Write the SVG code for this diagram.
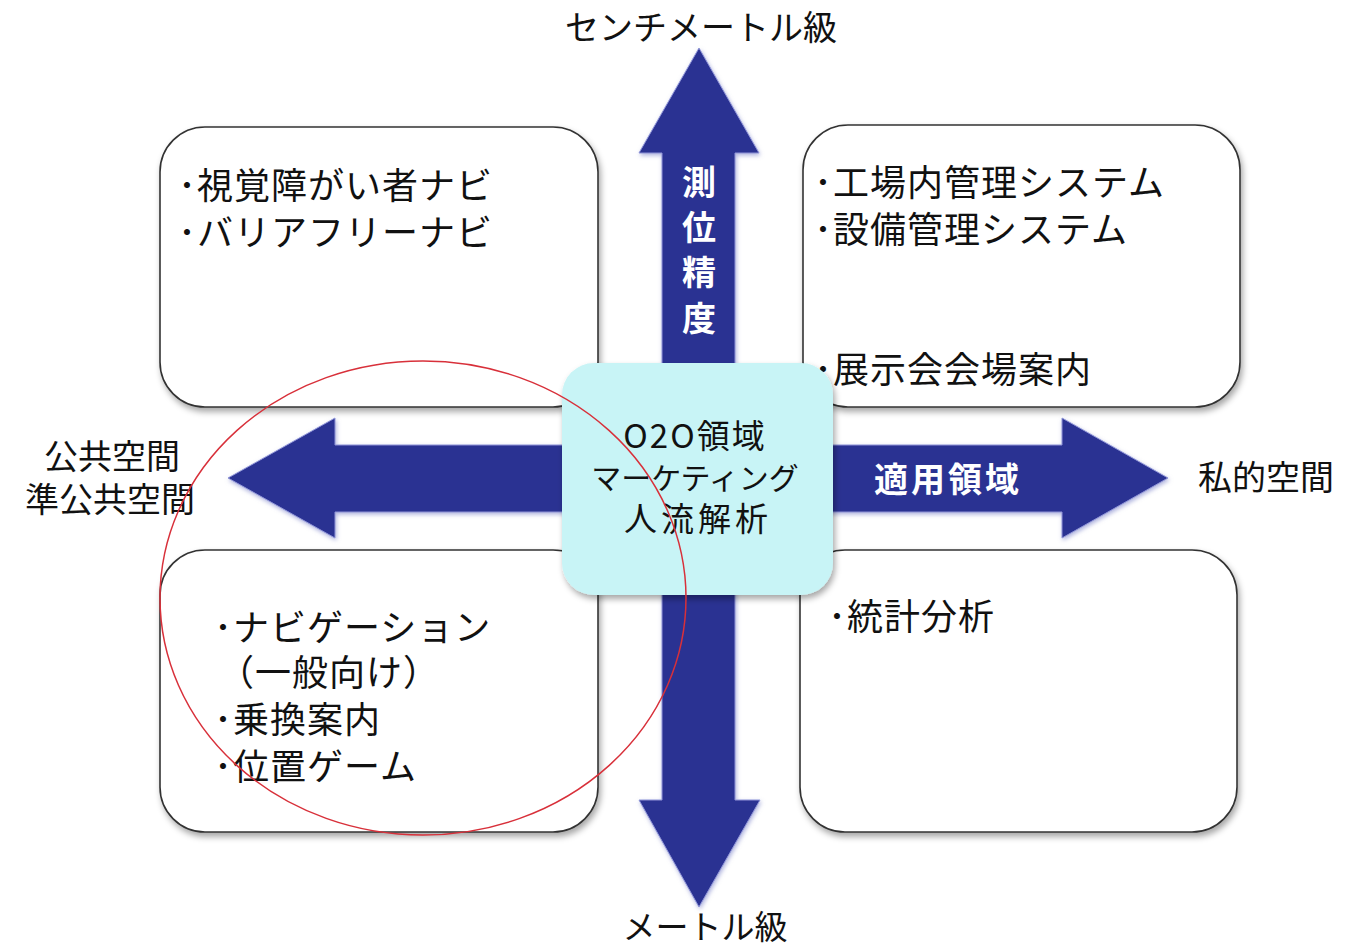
<svg xmlns="http://www.w3.org/2000/svg" width="1348" height="949" viewBox="0 0 1348 949">
<defs>
<filter id="sh" x="-10%" y="-10%" width="125%" height="125%">
<feDropShadow dx="2" dy="4" stdDeviation="3" flood-color="#000" flood-opacity="0.35"/>
</filter>
<filter id="ash" x="-10%" y="-10%" width="125%" height="125%">
<feDropShadow dx="1" dy="2" stdDeviation="2" flood-color="#7880c8" flood-opacity="0.6"/>
</filter>
<style>
.t{font-family:"Noto Sans CJK JP","Noto Sans",sans-serif;fill:#111;font-size:35px}
.b{font-size:36px;letter-spacing:1px}
.w{font-family:"Noto Sans CJK JP","Noto Sans",sans-serif;fill:#fff;font-size:34px;font-weight:bold}
.box{fill:#fff;stroke:#333;stroke-width:1.6}
.arr{fill:#2c3092;stroke:#8f96d8;stroke-width:1}
</style>
</defs>
<rect width="1348" height="949" fill="#fff"/>
<g id="connectors">
<polygon class="arr" filter="url(#ash)" points="699,48 759,153 735,153 735,800 760,800 699,907 639,800 662,800 662,153 639,153"/>
<polygon class="arr" filter="url(#ash)" points="228,478 335,418 335,445 1062,445 1062,418 1168,478 1062,538 1062,512 335,512 335,538"/>
</g>
<g id="label-vertical">
<text class="w" x="699" y="195" text-anchor="middle">測</text>
<text class="w" x="699" y="240" text-anchor="middle">位</text>
<text class="w" x="699" y="285" text-anchor="middle">精</text>
<text class="w" x="699" y="331" text-anchor="middle">度</text>
</g>
<g id="label-horizontal">
<text class="w" x="948" y="492" text-anchor="middle" letter-spacing="3">適用領域</text>
</g>
<g id="box-tl">
<rect class="box" filter="url(#sh)" x="160" y="127" width="438" height="280" rx="45"/>
<text class="t b" x="178" y="199">･視覚障がい者ナビ</text>
<text class="t b" x="178" y="246">･バリアフリーナビ</text>
</g>
<g id="box-tr">
<rect class="box" filter="url(#sh)" x="803" y="125" width="437" height="282" rx="45"/>
<text class="t b" x="814" y="196">･工場内管理システム</text>
<text class="t b" x="814" y="243">･設備管理システム</text>
<text class="t b" x="814" y="383">･展示会会場案内</text>
</g>
<g id="box-bl">
<rect class="box" filter="url(#sh)" x="160" y="550" width="438" height="282" rx="45"/>
<text class="t b" x="214" y="641">･ナビゲーション</text>
<text class="t b" x="218" y="686">（一般向け）</text>
<text class="t b" x="214" y="733">･乗換案内</text>
<text class="t b" x="214" y="780">･位置ゲーム</text>
</g>
<g id="box-br">
<rect class="box" filter="url(#sh)" x="800" y="550" width="437" height="282" rx="45"/>
<text class="t b" x="828" y="630">･統計分析</text>
</g>
<g id="center">
<rect filter="url(#sh)" x="562" y="363" width="271" height="232" rx="32" fill="#c8f4f6"/>
<text class="t" x="695" y="448" text-anchor="middle" style="font-size:33px;letter-spacing:2px">O2O領域</text>
<text class="t" x="695" y="489" text-anchor="middle" style="font-size:30px">マーケティング</text>
<text class="t" x="698" y="531" text-anchor="middle" style="font-size:33px;letter-spacing:4px">人流解析</text>
</g>
<g id="axis-labels">
<text class="t" x="701" y="40" text-anchor="middle" style="font-size:34px">センチメートル級</text>
<text class="t" x="705" y="939" text-anchor="middle" style="font-size:33px">メートル級</text>
<text class="t" x="112" y="469" text-anchor="middle" style="font-size:34px">公共空間</text>
<text class="t" x="110" y="512" text-anchor="middle" style="font-size:34px">準公共空間</text>
<text class="t" x="1266" y="490" text-anchor="middle" style="font-size:34px">私的空間</text>
</g>
<g id="highlight">
<ellipse cx="423" cy="598" rx="263" ry="237" fill="none" stroke="#d8303a" stroke-width="1.5"/>
</g>
</svg>
